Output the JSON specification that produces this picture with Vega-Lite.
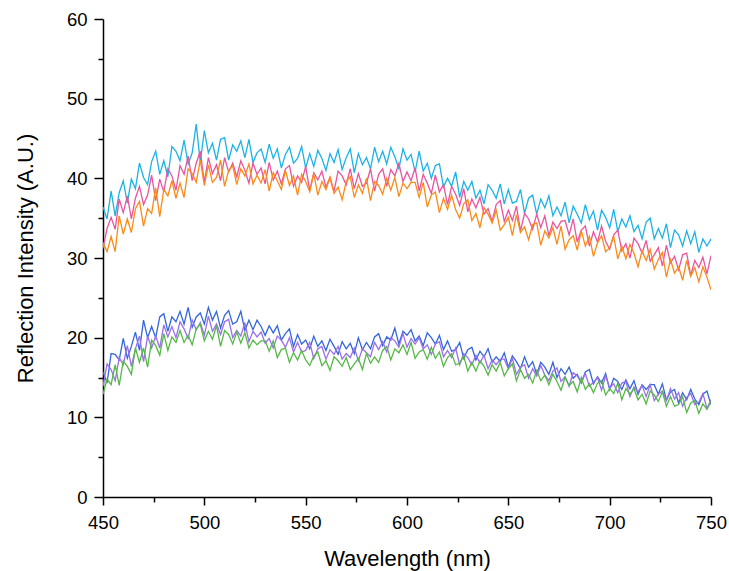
{
  "$schema": "https://vega.github.io/schema/vega-lite/v6.json",
  "width": 608,
  "height": 478,
  "autosize": {"type": "none"},
  "padding": {"left": 103, "top": 19, "right": 18, "bottom": 74},
  "background": "white",
  "config": {"view": {"stroke": null}},
  "data": {"values": [
    {"w":450,"c":36.4,"p":31.2,"o":31.9,"b":15.7,"u":13.9,"g":12.9},
    {"w":452,"c":34.9,"p":33.7,"o":30.8,"b":14.3,"u":16.7,"g":14.8},
    {"w":454,"c":38.4,"p":35.1,"o":32.7,"b":18.0,"u":16.0,"g":14.1},
    {"w":456,"c":35.3,"p":33.6,"o":30.8,"b":17.9,"u":14.6,"g":16.6},
    {"w":458,"c":38.2,"p":37.4,"o":35.3,"b":17.2,"u":17.5,"g":14.0},
    {"w":460,"c":39.7,"p":35.7,"o":33.0,"b":19.9,"u":16.6,"g":17.1},
    {"w":462,"c":36.9,"p":37.8,"o":34.9,"b":17.4,"u":19.0,"g":16.4},
    {"w":464,"c":39.9,"p":34.9,"o":33.2,"b":18.9,"u":16.4,"g":15.4},
    {"w":466,"c":38.7,"p":37.5,"o":36.2,"b":20.7,"u":18.6,"g":18.7},
    {"w":468,"c":41.9,"p":39.0,"o":37.1,"b":18.4,"u":20.2,"g":16.9},
    {"w":470,"c":40.1,"p":36.7,"o":34.0,"b":22.2,"u":17.0,"g":18.7},
    {"w":472,"c":39.2,"p":37.9,"o":36.2,"b":20.0,"u":20.2,"g":16.3},
    {"w":474,"c":42.1,"p":40.4,"o":35.6,"b":21.4,"u":18.7,"g":19.7},
    {"w":476,"c":43.4,"p":37.2,"o":38.8,"b":20.0,"u":20.2,"g":19.0},
    {"w":478,"c":40.5,"p":39.9,"o":35.2,"b":22.6,"u":18.7,"g":17.8},
    {"w":480,"c":42.2,"p":38.3,"o":38.6,"b":23.0,"u":21.6,"g":20.5},
    {"w":482,"c":40.2,"p":41.2,"o":37.8,"b":20.8,"u":20.1,"g":18.4},
    {"w":484,"c":44.0,"p":40.3,"o":39.7,"b":22.6,"u":21.4,"g":20.1},
    {"w":486,"c":43.4,"p":38.5,"o":37.5,"b":22.0,"u":20.0,"g":19.4},
    {"w":488,"c":42.2,"p":41.6,"o":39.4,"b":23.3,"u":22.0,"g":20.9},
    {"w":490,"c":44.8,"p":40.5,"o":37.6,"b":21.7,"u":21.1,"g":19.4},
    {"w":492,"c":41.8,"p":42.8,"o":41.2,"b":23.8,"u":19.9,"g":20.3},
    {"w":494,"c":43.2,"p":39.7,"o":40.6,"b":21.3,"u":22.2,"g":19.1},
    {"w":496,"c":46.8,"p":41.9,"o":39.5,"b":22.6,"u":21.0,"g":21.1},
    {"w":498,"c":42.0,"p":43.4,"o":42.3,"b":23.1,"u":21.9,"g":21.7},
    {"w":500,"c":46.0,"p":39.5,"o":39.1,"b":21.7,"u":20.3,"g":19.6},
    {"w":502,"c":43.2,"p":42.6,"o":41.7,"b":23.8,"u":22.7,"g":20.8},
    {"w":504,"c":44.4,"p":40.6,"o":39.5,"b":22.2,"u":20.8,"g":19.8},
    {"w":506,"c":42.3,"p":41.7,"o":40.1,"b":23.3,"u":21.7,"g":21.5},
    {"w":508,"c":44.9,"p":39.7,"o":42.3,"b":21.2,"u":20.4,"g":18.9},
    {"w":510,"c":45.1,"p":42.6,"o":39.0,"b":22.8,"u":22.0,"g":20.9},
    {"w":512,"c":42.3,"p":40.8,"o":41.0,"b":23.4,"u":22.3,"g":20.4},
    {"w":514,"c":44.2,"p":41.9,"o":41.6,"b":21.7,"u":20.0,"g":19.2},
    {"w":516,"c":43.4,"p":40.2,"o":39.2,"b":22.0,"u":20.9,"g":20.7},
    {"w":518,"c":44.7,"p":42.2,"o":41.2,"b":23.3,"u":20.2,"g":19.3},
    {"w":520,"c":42.6,"p":41.0,"o":40.3,"b":20.9,"u":21.9,"g":20.6},
    {"w":522,"c":44.9,"p":39.4,"o":41.8,"b":22.2,"u":19.5,"g":18.7},
    {"w":524,"c":42.0,"p":41.9,"o":39.3,"b":21.0,"u":20.8,"g":19.7},
    {"w":526,"c":43.2,"p":40.5,"o":40.4,"b":22.2,"u":20.1,"g":19.1},
    {"w":528,"c":43.7,"p":41.3,"o":39.4,"b":21.4,"u":20.7,"g":19.6},
    {"w":530,"c":42.0,"p":39.3,"o":41.1,"b":20.3,"u":19.3,"g":19.6},
    {"w":532,"c":44.3,"p":42.0,"o":38.4,"b":21.5,"u":19.9,"g":18.3},
    {"w":534,"c":42.5,"p":39.8,"o":40.7,"b":20.6,"u":18.7,"g":19.6},
    {"w":536,"c":43.7,"p":40.9,"o":39.7,"b":21.5,"u":20.2,"g":17.5},
    {"w":538,"c":41.3,"p":39.3,"o":38.6,"b":19.7,"u":19.7,"g":18.5},
    {"w":540,"c":43.0,"p":41.2,"o":41.0,"b":20.5,"u":18.8,"g":18.7},
    {"w":542,"c":43.9,"p":41.6,"o":39.1,"b":21.1,"u":20.0,"g":16.9},
    {"w":544,"c":41.9,"p":39.0,"o":40.3,"b":18.9,"u":18.2,"g":18.1},
    {"w":546,"c":42.5,"p":40.3,"o":37.9,"b":20.4,"u":19.4,"g":17.2},
    {"w":548,"c":44.0,"p":39.5,"o":40.5,"b":19.2,"u":18.2,"g":18.4},
    {"w":550,"c":41.3,"p":41.5,"o":39.6,"b":19.7,"u":18.4,"g":17.2},
    {"w":552,"c":43.1,"p":38.5,"o":38.3,"b":18.6,"u":19.4,"g":16.5},
    {"w":554,"c":41.5,"p":40.7,"o":40.6,"b":20.2,"u":17.4,"g":17.7},
    {"w":556,"c":43.5,"p":39.8,"o":37.9,"b":18.9,"u":18.6,"g":18.2},
    {"w":558,"c":42.5,"p":40.9,"o":39.6,"b":19.6,"u":18.9,"g":16.5},
    {"w":560,"c":41.0,"p":38.9,"o":38.6,"b":18.4,"u":17.3,"g":17.1},
    {"w":562,"c":43.1,"p":40.1,"o":40.1,"b":19.8,"u":18.5,"g":15.9},
    {"w":564,"c":42.0,"p":38.4,"o":38.1,"b":18.9,"u":17.9,"g":17.6},
    {"w":566,"c":43.6,"p":40.9,"o":38.9,"b":17.9,"u":18.9,"g":17.1},
    {"w":568,"c":41.1,"p":40.3,"o":37.3,"b":19.5,"u":17.3,"g":16.4},
    {"w":570,"c":42.6,"p":39.2,"o":39.6,"b":18.6,"u":18.0,"g":17.5},
    {"w":572,"c":43.7,"p":41.2,"o":40.2,"b":19.3,"u":17.5,"g":16.0},
    {"w":574,"c":40.7,"p":38.7,"o":37.6,"b":18.0,"u":18.7,"g":16.7},
    {"w":576,"c":43.1,"p":40.6,"o":39.2,"b":20.0,"u":17.1,"g":17.4},
    {"w":578,"c":41.7,"p":39.0,"o":38.1,"b":18.5,"u":18.6,"g":16.0},
    {"w":580,"c":42.6,"p":39.4,"o":40.0,"b":19.4,"u":18.1,"g":18.0},
    {"w":582,"c":41.2,"p":41.2,"o":37.2,"b":18.6,"u":17.6,"g":16.8},
    {"w":584,"c":43.9,"p":38.4,"o":39.6,"b":20.1,"u":19.4,"g":17.6},
    {"w":586,"c":42.1,"p":40.5,"o":39.1,"b":20.5,"u":18.5,"g":16.9},
    {"w":588,"c":43.4,"p":41.2,"o":38.0,"b":19.0,"u":19.5,"g":18.4},
    {"w":590,"c":41.8,"p":39.0,"o":40.0,"b":20.1,"u":18.2,"g":18.9},
    {"w":592,"c":43.9,"p":41.1,"o":38.5,"b":19.7,"u":20.0,"g":17.2},
    {"w":594,"c":42.7,"p":40.3,"o":40.1,"b":21.2,"u":19.6,"g":18.6},
    {"w":596,"c":41.2,"p":41.9,"o":37.7,"b":19.2,"u":18.8,"g":18.1},
    {"w":598,"c":43.7,"p":39.6,"o":39.4,"b":20.8,"u":20.5,"g":19.1},
    {"w":600,"c":42.3,"p":40.8,"o":38.7,"b":20.3,"u":18.8,"g":17.9},
    {"w":602,"c":43.0,"p":39.7,"o":39.5,"b":21.0,"u":19.9,"g":19.4},
    {"w":604,"c":40.8,"p":41.3,"o":39.5,"b":19.6,"u":19.2,"g":17.4},
    {"w":606,"c":43.4,"p":38.4,"o":37.6,"b":20.2,"u":20.0,"g":18.2},
    {"w":608,"c":40.9,"p":40.5,"o":39.5,"b":19.0,"u":18.6,"g":18.5},
    {"w":610,"c":41.9,"p":39.4,"o":36.4,"b":20.6,"u":19.1,"g":17.3},
    {"w":612,"c":40.0,"p":38.1,"o":37.9,"b":20.0,"u":17.9,"g":18.8},
    {"w":614,"c":41.6,"p":40.4,"o":38.3,"b":19.2,"u":19.2,"g":17.4},
    {"w":616,"c":41.8,"p":38.3,"o":35.7,"b":20.3,"u":19.5,"g":18.2},
    {"w":618,"c":38.9,"p":39.2,"o":37.5,"b":18.5,"u":17.6,"g":16.4},
    {"w":620,"c":40.0,"p":36.7,"o":36.1,"b":19.6,"u":18.4,"g":17.5},
    {"w":622,"c":39.0,"p":39.0,"o":37.9,"b":18.3,"u":17.5,"g":18.0},
    {"w":624,"c":40.8,"p":38.0,"o":36.1,"b":18.5,"u":18.7,"g":16.6},
    {"w":626,"c":37.6,"p":36.6,"o":35.0,"b":19.4,"u":16.6,"g":16.8},
    {"w":628,"c":39.6,"p":38.7,"o":36.8,"b":17.4,"u":18.0,"g":17.7},
    {"w":630,"c":38.5,"p":35.8,"o":37.3,"b":18.5,"u":17.5,"g":15.8},
    {"w":632,"c":39.6,"p":37.4,"o":34.7,"b":18.8,"u":16.6,"g":16.9},
    {"w":634,"c":37.5,"p":36.3,"o":35.6,"b":17.2,"u":17.8,"g":15.8},
    {"w":636,"c":38.5,"p":37.6,"o":33.8,"b":18.3,"u":16.8,"g":17.1},
    {"w":638,"c":36.8,"p":35.5,"o":36.3,"b":17.6,"u":17.8,"g":16.4},
    {"w":640,"c":39.2,"p":36.2,"o":35.5,"b":18.6,"u":16.1,"g":15.3},
    {"w":642,"c":38.5,"p":34.6,"o":34.4,"b":16.9,"u":17.2,"g":16.6},
    {"w":644,"c":37.5,"p":36.7,"o":36.0,"b":17.6,"u":16.6,"g":15.8},
    {"w":646,"c":39.3,"p":37.2,"o":33.5,"b":17.0,"u":17.3,"g":16.9},
    {"w":648,"c":36.8,"p":34.6,"o":34.2,"b":18.1,"u":17.3,"g":15.2},
    {"w":650,"c":38.6,"p":36.0,"o":35.1,"b":16.3,"u":16.1,"g":16.1},
    {"w":652,"c":36.9,"p":34.7,"o":32.8,"b":17.7,"u":17.4,"g":16.7},
    {"w":654,"c":37.1,"p":36.5,"o":35.4,"b":17.0,"u":15.4,"g":14.6},
    {"w":656,"c":38.6,"p":33.4,"o":33.2,"b":16.1,"u":16.3,"g":16.0},
    {"w":658,"c":35.6,"p":35.6,"o":33.9,"b":17.6,"u":16.6,"g":14.9},
    {"w":660,"c":37.5,"p":34.9,"o":32.3,"b":16.3,"u":14.9,"g":15.4},
    {"w":662,"c":37.9,"p":33.6,"o":34.2,"b":17.0,"u":16.1,"g":14.3},
    {"w":664,"c":35.5,"p":35.5,"o":34.4,"b":15.4,"u":15.2,"g":15.9},
    {"w":666,"c":37.4,"p":33.8,"o":31.6,"b":16.9,"u":16.5,"g":14.6},
    {"w":668,"c":36.3,"p":35.3,"o":33.4,"b":16.3,"u":15.3,"g":15.3},
    {"w":670,"c":37.8,"p":32.8,"o":32.5,"b":15.4,"u":14.6,"g":14.1},
    {"w":672,"c":35.3,"p":34.5,"o":33.8,"b":16.9,"u":15.8,"g":15.4},
    {"w":674,"c":36.4,"p":33.7,"o":31.7,"b":15.0,"u":16.2,"g":14.5},
    {"w":676,"c":35.3,"p":34.6,"o":34.0,"b":16.1,"u":14.5,"g":13.4},
    {"w":678,"c":37.0,"p":34.7,"o":31.1,"b":15.4,"u":15.1,"g":15.0},
    {"w":680,"c":34.4,"p":32.9,"o":32.3,"b":16.3,"u":13.9,"g":14.0},
    {"w":682,"c":36.5,"p":34.9,"o":32.8,"b":14.9,"u":15.6,"g":14.5},
    {"w":684,"c":35.5,"p":32.0,"o":31.0,"b":15.4,"u":15.2,"g":13.2},
    {"w":686,"c":34.4,"p":33.5,"o":33.4,"b":14.3,"u":14.4,"g":15.0},
    {"w":688,"c":36.7,"p":34.0,"o":31.5,"b":15.7,"u":15.5,"g":13.5},
    {"w":690,"c":34.8,"p":31.5,"o":32.7,"b":16.0,"u":13.9,"g":14.2},
    {"w":692,"c":35.9,"p":33.3,"o":30.2,"b":14.2,"u":14.4,"g":13.1},
    {"w":694,"c":33.5,"p":32.0,"o":31.9,"b":15.1,"u":15.0,"g":14.3},
    {"w":696,"c":36.0,"p":34.0,"o":32.8,"b":14.3,"u":13.4,"g":14.6},
    {"w":698,"c":35.1,"p":32.1,"o":30.8,"b":15.5,"u":15.2,"g":12.8},
    {"w":700,"c":33.8,"p":31.1,"o":31.3,"b":13.5,"u":13.7,"g":13.6},
    {"w":702,"c":36.1,"p":32.9,"o":32.7,"b":14.9,"u":14.2,"g":13.0},
    {"w":704,"c":33.3,"p":33.5,"o":29.9,"b":14.5,"u":13.1,"g":14.3},
    {"w":706,"c":34.9,"p":30.9,"o":31.5,"b":13.5,"u":14.3,"g":12.2},
    {"w":708,"c":33.9,"p":31.8,"o":29.9,"b":14.7,"u":14.5,"g":13.6},
    {"w":710,"c":35.3,"p":30.0,"o":31.7,"b":13.6,"u":12.6,"g":12.9},
    {"w":712,"c":33.3,"p":32.5,"o":30.6,"b":14.6,"u":13.8,"g":13.6},
    {"w":714,"c":34.1,"p":31.8,"o":28.9,"b":12.9,"u":13.2,"g":12.2},
    {"w":716,"c":32.4,"p":30.6,"o":30.9,"b":14.1,"u":14.0,"g":12.9},
    {"w":718,"c":34.5,"p":32.2,"o":29.7,"b":13.5,"u":12.6,"g":11.7},
    {"w":720,"c":35.0,"p":29.6,"o":31.1,"b":14.1,"u":14.1,"g":13.3},
    {"w":722,"c":32.4,"p":30.4,"o":28.6,"b":14.1,"u":12.1,"g":12.8},
    {"w":724,"c":33.7,"p":31.3,"o":29.8,"b":12.9,"u":12.9,"g":12.0},
    {"w":726,"c":32.5,"p":29.0,"o":30.7,"b":14.2,"u":13.3,"g":13.2},
    {"w":728,"c":34.3,"p":31.6,"o":27.6,"b":12.2,"u":12.1,"g":11.4},
    {"w":730,"c":31.3,"p":29.4,"o":29.8,"b":13.2,"u":13.6,"g":12.6},
    {"w":732,"c":33.5,"p":30.2,"o":28.1,"b":13.5,"u":12.3,"g":11.4},
    {"w":734,"c":32.9,"p":28.5,"o":28.9,"b":11.8,"u":13.1,"g":11.6},
    {"w":736,"c":31.5,"p":30.4,"o":27.2,"b":13.1,"u":11.4,"g":12.6},
    {"w":738,"c":33.4,"p":30.6,"o":29.7,"b":12.2,"u":12.5,"g":10.6},
    {"w":740,"c":31.8,"p":27.8,"o":27.7,"b":13.5,"u":13.0,"g":11.8},
    {"w":742,"c":33.3,"p":29.7,"o":28.8,"b":12.3,"u":11.6,"g":12.1},
    {"w":744,"c":30.7,"p":28.8,"o":27.0,"b":11.6,"u":11.9,"g":10.5},
    {"w":746,"c":32.4,"p":30.1,"o":28.9,"b":12.9,"u":13.0,"g":11.7},
    {"w":748,"c":31.5,"p":28.0,"o":27.6,"b":13.3,"u":11.1,"g":11.0},
    {"w":750,"c":32.4,"p":30.3,"o":26.0,"b":11.6,"u":12.2,"g":12.0}
  ]},
  "transform": [{"fold": ["c", "p", "o", "b", "u", "g"], "as": ["series", "value"]}],
  "mark": {"type": "line", "strokeWidth": 1.3, "clip": true},
  "encoding": {
    "x": {
      "field": "w", "type": "quantitative",
      "scale": {"domain": [450, 750], "nice": false, "zero": false},
      "axis": {
        "title": "Wavelength (nm)",
        "values": [450, 475, 500, 525, 550, 575, 600, 625, 650, 675, 700, 725, 750],
        "labelExpr": "datum.value % 50 === 0 ? datum.label : ''",
        "tickSize": {"condition": {"test": "datum.value % 50 === 0", "value": 8}, "value": 5},
        "grid": false,
        "domainColor": "black", "domainWidth": 1.5,
        "tickColor": "black", "tickWidth": 1.5,
        "labelFont": "Liberation Sans", "labelFontSize": 18.5, "labelColor": "black", "labelPadding": 8,
        "labelFlush": false,
        "titleFont": "Liberation Sans", "titleFontSize": 22, "titleFontWeight": "normal", "titleColor": "black", "titlePadding": 17
      }
    },
    "y": {
      "field": "value", "type": "quantitative",
      "scale": {"domain": [0, 60], "nice": false},
      "axis": {
        "title": "Reflection Intensity (A.U.)",
        "values": [0, 5, 10, 15, 20, 25, 30, 35, 40, 45, 50, 55, 60],
        "labelExpr": "datum.value % 10 === 0 ? datum.label : ''",
        "tickSize": {"condition": {"test": "datum.value % 10 === 0", "value": 9}, "value": 5},
        "grid": false,
        "domainColor": "black", "domainWidth": 1.5,
        "tickColor": "black", "tickWidth": 1.5,
        "labelFont": "Liberation Sans", "labelFontSize": 18.5, "labelColor": "black", "labelPadding": 7,
        "labelFlush": false,
        "titleFont": "Liberation Sans", "titleFontSize": 22, "titleFontWeight": "normal", "titleColor": "black", "titlePadding": 29
      }
    },
    "color": {
      "field": "series", "type": "nominal",
      "scale": {"domain": ["c", "o", "p", "g", "u", "b"], "range": ["#1cb2e6", "#fb8a16", "#e8559e", "#55b847", "#9a70e8", "#3366dd"]},
      "legend": null
    }
  }
}
